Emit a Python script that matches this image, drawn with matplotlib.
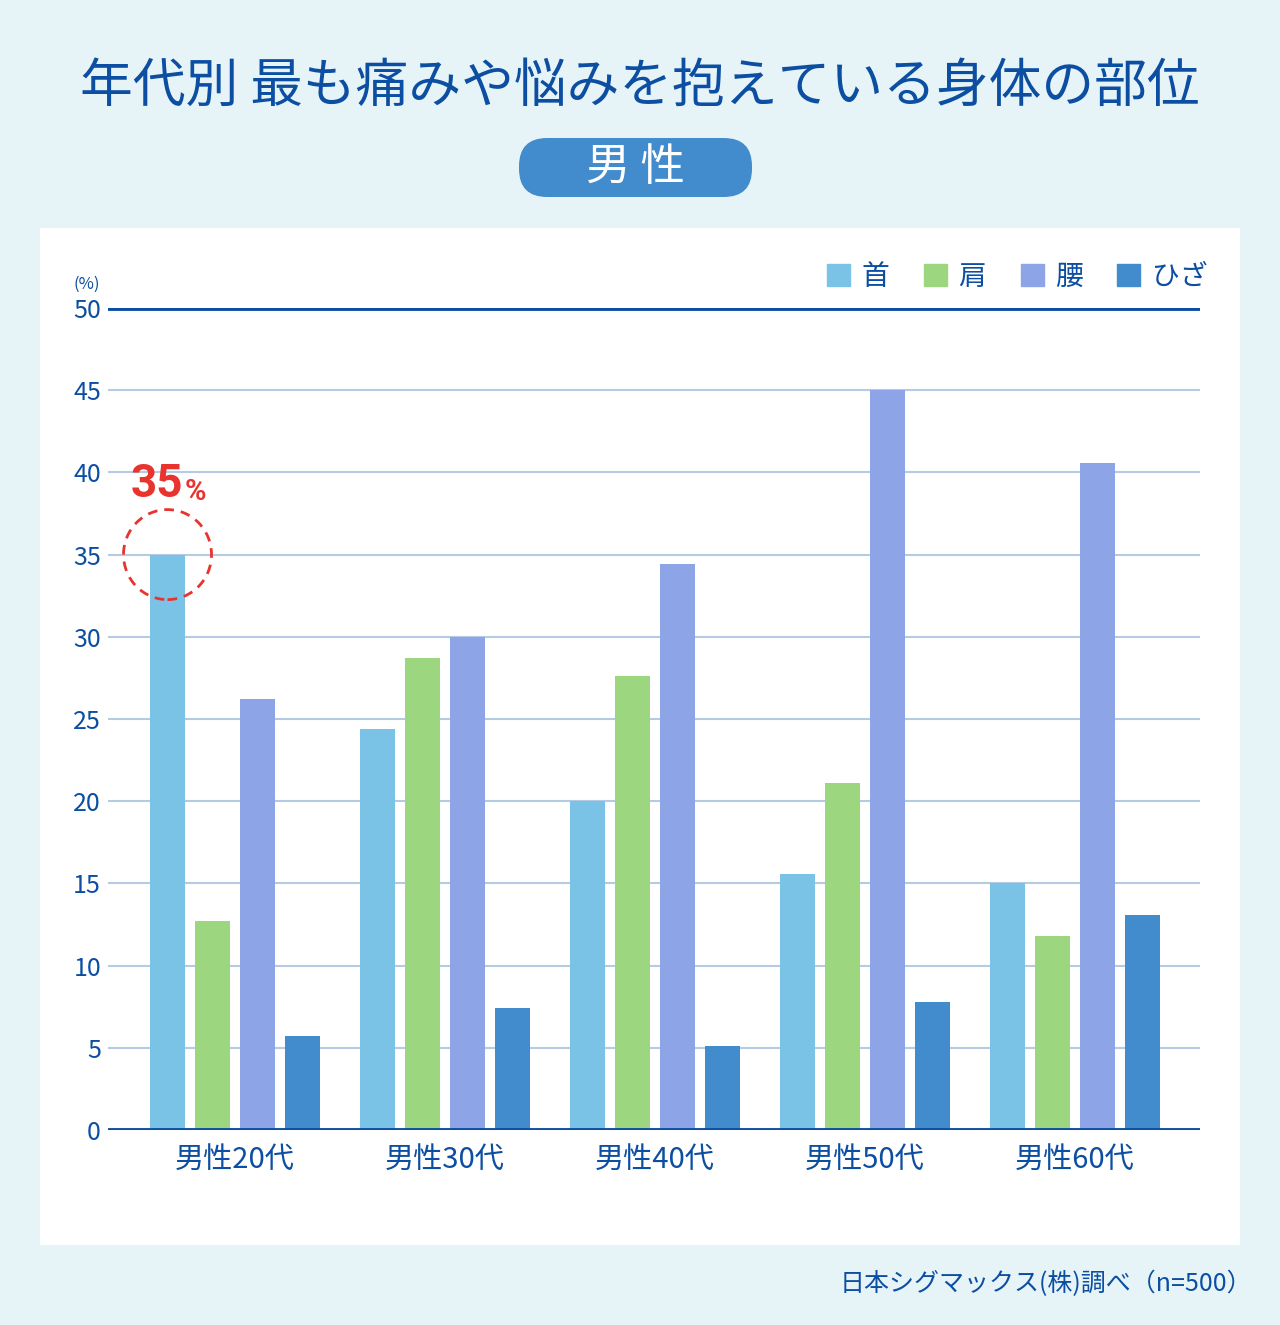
import matplotlib
matplotlib.use("Agg")
import matplotlib.pyplot as plt
from matplotlib.patches import FancyBboxPatch, Rectangle, Ellipse
import numpy as np

plt.rcParams['font.family'] = ['Noto Sans CJK JP', 'DejaVu Sans']

categories = ["男性20代", "男性30代", "男性40代", "男性50代", "男性60代"]
series_names = ["首", "肩", "腰", "ひざ"]
neck = [35.0, 24.4, 20.0, 15.6, 15.0]
shoulder = [12.7, 28.7, 27.6, 21.1, 11.8]
waist = [26.2, 30.0, 34.4, 45.0, 40.6]
knee = [5.7, 7.4, 5.1, 7.8, 13.1]
yticks = [0, 5, 10, 15, 20, 25, 30, 35, 40, 45, 50]
colors = ["#7AC3E6", "#9CD67E", "#8DA5E6", "#428BCD"]
dark = "#0B4EA2"

W, H = 1280, 1325
fig = plt.figure(figsize=(W/100, H/100), dpi=100)
fig.patch.set_facecolor("#E6F4F7")

# white panel
fig.add_artist(Rectangle((40/W, 1-1245/H), 1200/W, (1245-228)/H,
                         transform=fig.transFigure, facecolor="white", edgecolor="none", zorder=0))

fig.text(640/W, 1-86/H, "年代別 最も痛みや悩みを抱えている身体の部位", ha="center", va="center",
         fontsize=38, color=dark)
pill = FancyBboxPatch((519/W, 1-197/H), (752-519)/W, (197-138)/H,
                      boxstyle="round,pad=0,rounding_size=0.022", transform=fig.transFigure,
                      facecolor="#428BCD", edgecolor="none", mutation_aspect=W/H)
fig.add_artist(pill)
fig.text(636/W, 1-167/H, "男 性", ha="center", va="center", fontsize=32, color="white")

ax = fig.add_axes([108/W, 1-1130/H, (1200-108)/W, (1130-308)/H])
ax.set_facecolor("none")
x = np.arange(len(categories))
series = [neck, shoulder, waist, knee]
bw = 35/210
step = 45/210
for i, (vals, c, name) in enumerate(zip(series, colors, series_names)):
    ax.bar(x + (i-1.5)*step, vals, width=bw, color=c, zorder=3, label=name)

ax.set_xlim(-127/210, 965/210)
ax.set_ylim(0, 50)
ax.set_yticks(yticks)
for t in yticks[1:-1]:
    ax.axhline(t, color="#B4CBE3", lw=1.5, zorder=1)
ax.axhline(50, color=dark, lw=3.5, zorder=2, solid_capstyle="round")
ax.axhline(0, color=dark, lw=3.5, zorder=4, solid_capstyle="round")
for s in ax.spines.values():
    s.set_visible(False)
ax.tick_params(axis="y", length=0, labelsize=18, labelcolor=dark, pad=5)
ax.tick_params(axis="x", length=0, labelsize=21, labelcolor=dark, pad=11)
ax.set_xticks(x)
ax.set_xticklabels(categories)
ax.text(-0.007, 1.018, "(%)", transform=ax.transAxes, ha="right", va="bottom", fontsize=12, color=dark)

# highlight
cx = x[0]-1.5*step
ax.add_patch(Ellipse((cx, 35), 88/210, 90/16.44, fill=False, edgecolor="#E8332E",
                     lw=2, ls=(0, (3.5, 2.5)), zorder=5, clip_on=False))
ax.text(cx+16/210, 37.95, "35", ha="right", va="bottom", fontsize=33, fontweight="bold",
        color="#E8332E", family=["Roboto"])
ax.text(cx+17/210, 37.95, "%", ha="left", va="bottom", fontsize=21, fontweight="bold",
        color="#E8332E", family=["Roboto"])

handles = [Rectangle((0, 0), 1, 1, color=c) for c in colors]
leg = fig.legend(handles, series_names, loc="center right", bbox_to_anchor=(1207/W, 1-277/H),
                 ncol=4, frameon=False, fontsize=20, handlelength=0.83, handleheight=0.83,
                 handletextpad=0.4, columnspacing=1.25, borderpad=0, borderaxespad=0)
for t in leg.get_texts():
    t.set_color(dark)

fig.text(1252/W, 1-1284/H, "日本シグマックス(株)調べ（n=500）", ha="right", va="center",
         fontsize=18, color=dark)

fig.savefig("out.png", dpi=100, facecolor=fig.get_facecolor())
